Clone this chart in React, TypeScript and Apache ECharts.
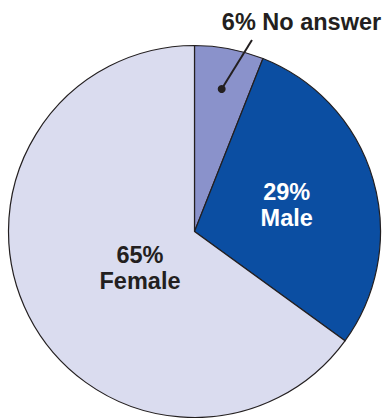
import React, { useEffect, useRef } from "react";
import * as echarts from "echarts";

const categories = ["No answer", "Male", "Female"];
const values = [6, 29, 65];
const colors = ["#8a92cb", "#0b4ea2", "#dadcef"];
const labelColors = ["#231f20", "#ffffff", "#231f20"];

const CX = 194.5;
const CY = 231.5;
const R = 186;

export default function App() {
  const ref = useRef<HTMLDivElement>(null);
  useEffect(() => {
    if (!ref.current) return;
    const chart = echarts.init(ref.current, undefined, { renderer: "svg" });
    const total = values.reduce((a, b) => a + b, 0);
    const mid0 = ((values[0] / 2) / total) * 2 * Math.PI;
    const dotR = R * 0.78;
    const dot = [CX + dotR * Math.sin(mid0), CY - dotR * Math.cos(mid0)];
    const endAng = (16.7 * Math.PI) / 180;
    const endR = R * 1.075;
    const lineEnd = [CX + endR * Math.sin(endAng), CY - endR * Math.cos(endAng)];
    const font = "'Liberation Sans', Arial, Helvetica, sans-serif";

    chart.setOption({
      animation: false,
      series: [
        {
          type: "pie",
          center: [CX, CY],
          radius: [0, R],
          startAngle: 90,
          clockwise: true,
          silent: true,
          itemStyle: { borderColor: "#231f20", borderWidth: 1.2 },
          labelLine: { show: false },
          label: {
            show: true,
            position: "inside",
            fontFamily: font,
            fontWeight: "bold",
            fontSize: 23.5,
            lineHeight: 26,
            align: "center",
          },
          labelLayout: (p: any) => {
            if (p.dataIndex === 0) {
              return { x: 301.5, y: 22, align: "center", verticalAlign: "middle" };
            }
            if (p.dataIndex === 2) {
              return { x: 140, y: 268, align: "center", verticalAlign: "middle" };
            }
            return {};
          },
          data: categories.map((c, i) => ({
            name: c,
            value: values[i],
            itemStyle: { color: colors[i] },
            label: {
              color: labelColors[i],
              formatter: i === 0 ? `${values[i]}% ${c}` : `${values[i]}%\n${c}`,
            },
          })),
        },
      ],
      graphic: [
        {
          type: "line",
          shape: { x1: dot[0], y1: dot[1], x2: lineEnd[0], y2: lineEnd[1] },
          style: { stroke: "#231f20", lineWidth: 2 },
          z: 100,
        },
        {
          type: "circle",
          shape: { cx: dot[0], cy: dot[1], r: 4 },
          style: { fill: "#231f20" },
          z: 100,
        },
      ],
    });
    return () => chart.dispose();
  }, []);
  return (
    <div
      ref={ref}
      style={{ position: "fixed", left: 0, top: 0, width: 385, height: 418, background: "#fff" }}
    />
  );
}
